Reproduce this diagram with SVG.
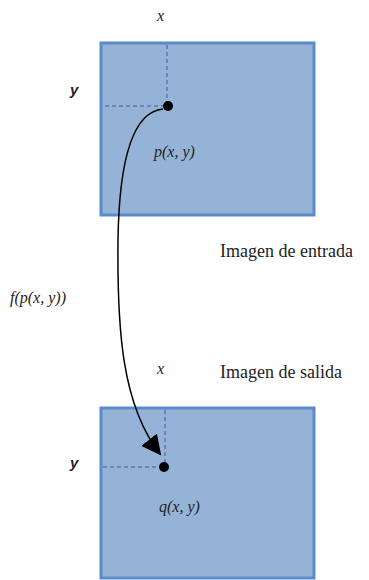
<svg xmlns="http://www.w3.org/2000/svg" width="369" height="580" viewBox="0 0 369 580">
<style>
.img{fill:#95b3d7;stroke:#5a8bcb;stroke-width:3}
.dash{stroke:#3a5f95;stroke-width:1;stroke-dasharray:4 3;fill:none}
.lab{font-family:"Liberation Serif",serif;font-style:italic;font-size:16px;fill:#222}
.cap{font-family:"Liberation Serif",serif;font-size:18px;fill:#222}
.ax{font-family:"Liberation Sans",sans-serif;font-style:italic;font-weight:bold;font-size:15px;fill:#222}
</style>
<defs>
<marker id="ah" viewBox="0 0 10 10" refX="9" refY="5" markerWidth="20" markerHeight="20" markerUnits="userSpaceOnUse" orient="auto">
<path d="M0,0 L10,5 L0,10 Z" fill="#000"/>
</marker>
</defs>
<g id="entrada">
<rect class="img" x="101" y="43" width="213" height="172"/>
<line class="dash" x1="167" y1="45" x2="167" y2="106"/>
<line class="dash" x1="105" y1="106" x2="167" y2="106"/>
<circle cx="168" cy="106" r="5" fill="#000"/>
<text class="lab" x="154" y="157">p(x, y)</text>
<text class="lab" x="157" y="21" font-size="18">x</text>
<text class="ax" x="70" y="95">y</text>
<text class="cap" x="220" y="257">Imagen de entrada</text>
</g>
<g id="salida">
<rect class="img" x="101" y="408" width="213" height="170"/>
<line class="dash" x1="165" y1="410" x2="165" y2="467"/>
<line class="dash" x1="103" y1="467" x2="165" y2="467"/>
<circle cx="164" cy="467" r="5" fill="#000"/>
<text class="lab" x="159" y="512">q(x, y)</text>
<text class="lab" x="157" y="374" font-size="18">x</text>
<text class="ax" x="70" y="468">y</text>
<text class="cap" x="220" y="378">Imagen de salida</text>
</g>
<g id="connectors">
<path d="M163,109 C130,112 119,170 118,240 C117,330 122,405 160,454" fill="none" stroke="#000" stroke-width="1.5" marker-end="url(#ah)"/>
<text class="lab" x="10" y="303" font-size="15">f(p(x, y))</text>
</g>
</svg>
